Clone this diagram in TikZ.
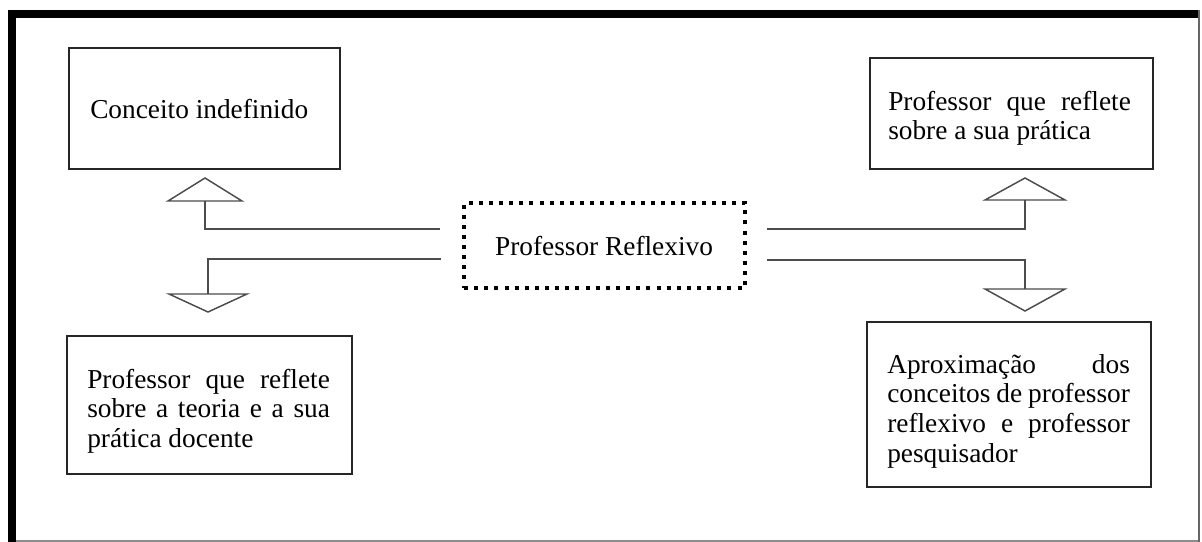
\documentclass[tikz,border=0pt]{standalone}
\usepackage{fontspec}
\setmainfont{Liberation Serif}
\usetikzlibrary{fit}
\begin{document}
\begin{tikzpicture}[x=0.75pt,y=-0.75pt,
  box/.style={draw=black!85, line width=1.1pt, inner sep=0pt},
  dotbox/.style={draw=black, line width=3pt, dash pattern=on 3pt off 4.6pt, inner sep=0pt},
  txt/.style={inner sep=0pt, font=\fontsize{20.5}{22.3}\selectfont, text width=182pt, align=justify},
  conn/.style={draw=black!70, line width=1.5pt},
  tri/.style={draw=black!70, line width=1.1pt, line join=miter}]
\useasboundingbox (0,0) rectangle (1202,542);
% outer frame
\fill[black] (8,10) rectangle (1200,18);
\fill[black] (8,10) rectangle (16,542);
\draw[black!60, line width=1.8pt] (1199,10) -- (1199,542);
\draw[black!45, line width=0.9pt] (16,541) -- (1198,541);
% boxes
\node[box, fit={(69,48) (340,169)}] (ba) {};
\node[box, fit={(870,58) (1153,169)}] (bb) {};
\node[box, fit={(67,336) (352,474)}] (bc) {};
\node[box, fit={(867,322) (1151,487)}] (bd) {};
\node[dotbox, fit={(464,203) (745,288)}] (center) {};
% texts
\node[inner sep=0pt, font=\fontsize{20.5}{22.3}\selectfont, anchor=base west] (ta) at (90,118) {Conceito indefinido};
\node[txt, anchor=base west] (tb) at (888,110) {Professor que reflete\linebreak sobre a sua prática};
\node[txt, anchor=base west] (tc) at (87,388) {Professor que reflete\linebreak sobre a teoria e a sua\linebreak prática docente};
\node[txt, anchor=base west] (td) at (887,373) {Aproximação dos\linebreak conceitos de professor\linebreak reflexivo e professor\linebreak pesquisador};
\node[inner sep=0pt, font=\fontsize{20.5}{22.3}\selectfont, anchor=base] (tcen) at (604,255) {Professor Reflexivo};
% connector ends
\coordinate (lu) at (440,229);
\coordinate (ld) at (441,259);
\coordinate (ru) at (767,229);
\coordinate (rd) at (767,260);
\coordinate (tlu) at (205,201);
\coordinate (tld) at (208,294);
\coordinate (tru) at (1025,200);
\coordinate (trd) at (1025,289);
% triangles
\draw[tri] (168,201) -- (205,178) -- (242,201) -- cycle;
\draw[tri] (169,294) -- (208,312) -- (247,294) -- cycle;
\draw[tri] (985,200) -- (1025,178) -- (1065,200) -- cycle;
\draw[tri] (985,289) -- (1025,311) -- (1065,289) -- cycle;
% connectors
\draw[conn] (lu) -| (tlu);
\draw[conn] (ld) -| (tld);
\draw[conn] (ru) -| (tru);
\draw[conn] (rd) -| (trd);
\end{tikzpicture}
\end{document}
